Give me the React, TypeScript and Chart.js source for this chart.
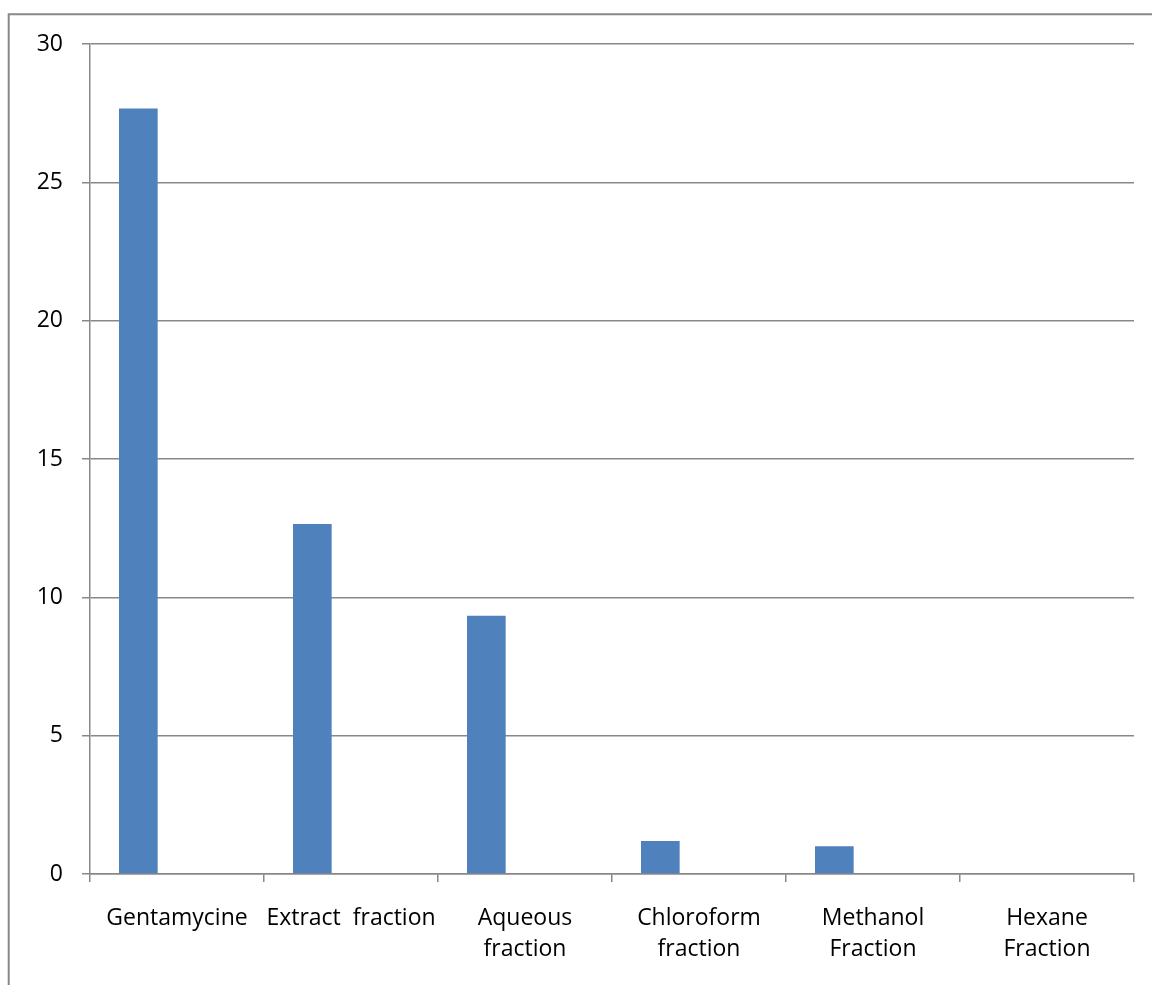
import React, { useEffect, useRef } from "react";
import { Chart, registerables } from "chart.js";

Chart.register(...registerables);

const categories: (string | string[])[] = [
  "Gentamycine",
  "Extract  fraction",
  ["Aqueous", "fraction"],
  ["Chloroform", "fraction"],
  ["Methanol", "Fraction"],
  ["Hexane", "Fraction"],
];
const series1: number[] = [27.67, 12.65, 9.33, 1.19, 1.0, 0];
const series2: number[] = [0, 0, 0, 0, 0, 0];
const series3: number[] = [0, 0, 0, 0, 0, 0];
const yTicks: number[] = [0, 5, 10, 15, 20, 25, 30];

const FONT = "'Open Sans', 'Noto Sans', sans-serif";

const frame = {
  id: "frame",
  beforeDraw(chart: any) {
    const ctx = chart.ctx;
    ctx.save();
    ctx.fillStyle = "#ffffff";
    ctx.fillRect(0, 0, chart.width, chart.height);
    ctx.strokeStyle = "#888888";
    ctx.lineWidth = 2;
    ctx.beginPath();
    ctx.moveTo(8.7, 1200);
    ctx.lineTo(8.7, 14.3);
    ctx.lineTo(1300, 14.3);
    ctx.stroke();
    ctx.restore();
  },
};

export default function App() {
  const ref = useRef<HTMLCanvasElement | null>(null);
  useEffect(() => {
    if (!ref.current) return;
    const chart = new Chart(ref.current, {
      type: "bar",
      data: {
        labels: categories as any,
        datasets: [
          { data: series1, backgroundColor: "#4F81BD", borderWidth: 0 },
          { data: series2, backgroundColor: "#C0504D", borderWidth: 0 },
          { data: series3, backgroundColor: "#9BBB59", borderWidth: 0 },
        ],
      },
      options: {
        responsive: false,
        animation: false,
        devicePixelRatio: 1,
        layout: { padding: { top: 44, right: 18, left: 0, bottom: 0 } },
        plugins: { legend: { display: false }, tooltip: { enabled: false } },
        datasets: { bar: { categoryPercentage: 2 / 3, barPercentage: 1 } },
        scales: {
          x: {
            offset: true,
            grid: {
              offset: true,
              drawOnChartArea: false,
              drawTicks: true,
              tickLength: 8,
              color: "#888888",
              lineWidth: 1.5,
            },
            border: { display: true, color: "#888888", width: 1.5 },
            ticks: {
              color: "#000000",
              padding: 21,
              maxRotation: 0,
              autoSkip: false,
              font: { family: FONT, size: 23, lineHeight: 1.35 },
            },
            afterFit: (scale: any) => {
              scale.height = 111;
            },
          },
          y: {
            min: 0,
            max: 30,
            afterBuildTicks: (scale: any) => {
              scale.ticks = yTicks.map((v) => ({ value: v }));
            },
            grid: {
              color: "#888888",
              lineWidth: 1.5,
              drawTicks: true,
              tickLength: 8,
            },
            border: { display: true, color: "#888888", width: 1.5 },
            ticks: {
              color: "#000000",
              padding: 19,
              font: { family: FONT, size: 23 },
            },
            afterFit: (scale: any) => {
              scale.width = 90;
            },
          },
        },
      },
      plugins: [frame],
    });
    return () => chart.destroy();
  }, []);
  return (
    <div style={{ position: "absolute", left: 0, top: 0, width: 1152, height: 985 }}>
      <canvas ref={ref} width={1152} height={985} style={{ display: "block" }} />
    </div>
  );
}
